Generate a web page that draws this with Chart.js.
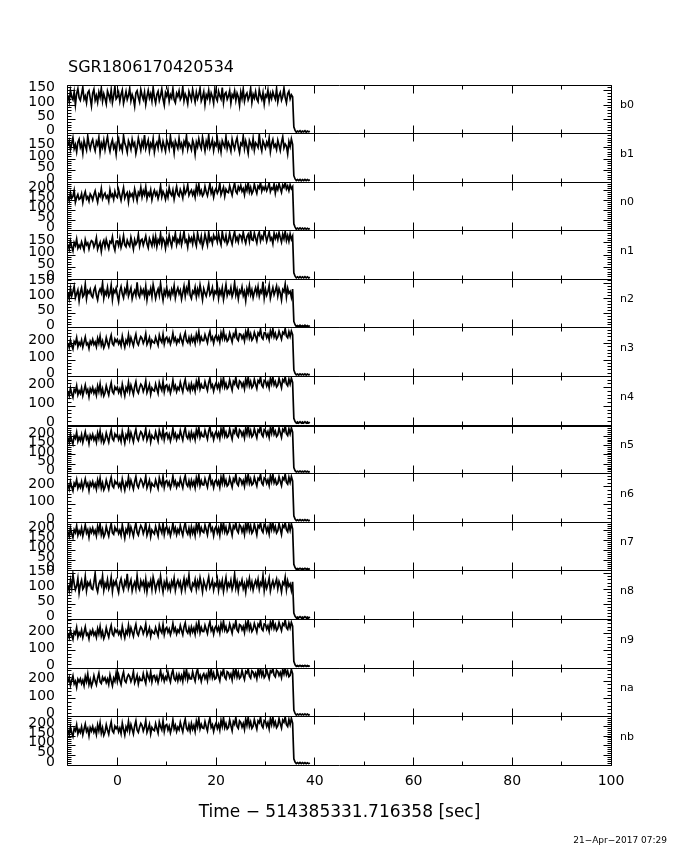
<!DOCTYPE html>
<html><head><meta charset="utf-8">
<script src="https://cdn.jsdelivr.net/npm/chart.js@4"></script>
<style>html,body{margin:0;padding:0;background:#fff}</style>
</head><body>
<canvas id="c" width="680" height="850"></canvas>
<script>
const TITLE = 'SGR1806170420534';
const X_TITLE = 'Time − 514385331.716358 [sec]';
const DATE_STAMP = '21−Apr−2017 07:29';
const X_TICKS = [0, 20, 40, 60, 80, 100];
const X_MINOR = [10, 30, 50, 70, 90];
const BIN_START = -10, BIN_WIDTH = 0.25;
const TAIL_TIMES = [35.75,36,36.25,36.5,36.75,37,37.25,37.5,37.75,38,38.25,38.5,38.75,39];
const DETECTORS = ['b0','b1','n0','n1','n2','n3','n4','n5','n6','n7','n8','n9','na','nb'];
const Y_MAX = [170,210,240,200,165,295,260,260,275,240,160,285,275,250];
const Y_TICKS = [[0,50,100,150],[0,50,100,150],[0,50,100,150,200],[0,50,100,150],[0,50,100,150],[0,100,200],[0,100,200],[0,50,100,150,200],[0,100,200],[0,50,100,150,200],[0,50,100,150],[0,100,200],[0,100,200],[0,50,100,150,200]];

const B0 = [134,112,151,128,119,146,101,140,157,125,116,138,162,120,131,108,143,150,124,97,
141,155,117,133,110,145,127,159,114,139,123,104,149,135,118,153,109,132,164,121,
128,144,113,137,152,106,126,147,119,133,158,115,136,122,96,142,150,127,111,154,
134,120,145,103,130,151,124,139,114,160,126,107,137,148,116,132,156,121,100,143,
131,152,113,136,125,157,118,108,141,130,149,119,128,163,115,138,126,105,147,133,
118,154,131,110,144,122,137,159,114,127,146,102,135,124,151,117,142,129,106,156,
125,115,148,132,121,161,109,138,144,120,131,150,107,136,127,149,116,141,128,99,
145,123,155,113,134,142,118,130,158,109,137,124,147,121,112,153,132,119,143,104,
135,128,152,114,140,123,146,131,120,157,111,133,144,117,130,159,126,108,139,148,122,136,129];
const B1 = [157,178,141,167,192,145,162,131,173,186,150,166,126,180,158,139,199,164,143,170,
184,155,136,175,161,193,128,168,150,181,140,172,197,156,133,165,183,147,162,122,
174,189,145,160,137,201,168,153,129,179,164,142,185,158,170,124,151,190,165,138,
176,156,204,144,163,182,135,167,152,188,130,161,173,148,195,164,141,176,155,134,
183,166,144,198,157,169,127,178,162,146,190,152,167,136,175,160,200,143,168,157,
140,181,163,121,172,153,187,160,145,194,165,135,176,155,203,147,162,183,137,169,
158,188,142,166,131,179,164,151,197,146,171,156,134,186,161,143,174,192,153,128,
168,160,199,145,177,154,125,180,165,149,189,139,170,162,150,206,157,135,178,164,
147,173,158,191,132,166,184,152,162,141,181,160,137,172,196,148,165,156,123,175,154,187,163];
const N0 = [172,149,187,160,170,199,141,164,179,155,160,183,140,174,193,157,168,146,182,171,
152,178,197,166,141,181,170,208,158,176,186,162,173,147,202,169,180,155,194,171,
164,203,176,150,183,212,161,179,189,143,188,171,182,156,206,178,149,190,177,214,
167,197,178,216,160,187,174,202,153,183,200,175,190,159,183,223,168,194,179,155,
193,167,213,184,174,201,156,188,218,180,171,204,187,162,214,183,196,226,175,190,
201,177,195,166,219,189,230,183,199,172,183,219,192,173,203,233,186,206,166,197,
209,186,200,234,178,196,215,171,205,192,188,222,198,176,212,236,194,184,217,202,
224,195,208,178,221,200,238,192,214,183,196,230,205,185,220,210,239,195,216,203,
222,198,214,237,193,211,204,231,186,219,203,233,210,190,226,214,238,206,221,198,227,208,218];
const N1 = [144,124,157,134,117,151,139,166,128,141,130,154,137,120,163,142,150,125,147,159,
155,133,146,171,124,139,152,115,148,160,134,164,143,126,156,150,175,137,119,157,
158,139,168,131,150,179,142,134,161,146,136,173,150,124,163,144,154,185,137,160,
165,141,159,178,146,130,168,154,138,173,145,176,135,163,150,188,141,169,158,128,
166,146,181,155,136,171,160,190,142,163,151,182,143,167,197,154,162,133,175,156,
170,146,183,157,138,190,164,151,177,134,153,186,163,141,194,159,170,148,181,166,
175,154,188,161,143,196,166,156,181,146,158,190,164,145,177,197,159,173,154,184,
179,159,194,166,149,176,186,157,198,163,160,191,169,150,182,195,158,177,165,199,
182,156,176,196,162,171,147,190,168,184,163,193,172,153,186,167,198,160,180,157,187,165,178];
const N2 = [119,99,134,109,124,141,103,116,129,92,121,136,106,113,148,100,126,118,131,110,
104,128,139,111,95,122,132,119,153,101,124,113,137,107,118,145,97,129,120,135,
111,90,125,140,116,102,131,119,150,108,122,136,99,117,127,110,155,114,105,133,
117,129,108,141,96,124,115,134,106,147,125,100,120,132,111,151,119,94,127,113,
138,109,123,104,131,117,143,102,124,136,116,128,98,119,142,108,135,121,158,111,
100,125,117,138,106,131,113,146,122,96,133,119,108,127,149,112,120,137,104,124,
117,143,101,128,114,136,97,122,147,110,125,116,137,107,121,154,112,130,99,127,
119,139,110,124,93,133,117,144,113,129,103,122,136,115,140,108,127,119,157,102,
131,111,124,145,101,120,137,113,126,142,109,133,119,95,130,123,149,105,135,118,124,104,132];
const N3 = [204,176,219,189,167,212,199,235,181,207,190,221,178,209,240,193,203,171,215,198,
225,194,210,181,232,202,244,189,215,174,194,236,205,181,223,251,200,190,228,211,
225,198,216,187,245,207,178,220,202,252,199,236,211,186,228,257,206,192,221,242,
231,202,222,260,195,213,237,187,221,209,203,239,214,190,251,222,208,256,197,230,
239,211,230,196,221,263,216,235,200,224,211,250,221,197,242,267,218,206,237,203,
243,214,236,201,256,224,272,210,240,217,217,254,229,205,249,275,223,240,202,237,
251,222,243,209,264,232,279,226,247,214,225,263,237,210,257,242,283,229,218,260,
256,231,250,216,271,240,286,233,259,221,233,268,244,218,264,251,288,237,227,266,
264,236,256,224,276,247,290,240,262,228,240,275,251,227,268,258,291,245,235,272,243,276,254];
const N4 = [183,157,198,168,148,191,178,210,162,184,169,199,158,186,214,175,190,152,195,177,
201,171,189,160,209,180,220,167,194,156,173,210,184,161,199,226,179,169,204,190,
203,175,194,166,219,187,157,200,183,228,178,213,189,164,206,232,185,172,200,219,
209,180,200,236,174,193,216,165,199,187,182,220,194,170,227,203,186,234,178,210,
216,187,207,172,198,240,192,211,179,202,190,229,201,178,219,244,197,186,215,183,
221,192,212,181,233,205,248,193,217,199,197,232,206,185,227,251,203,216,182,211,
226,198,219,189,240,210,254,202,223,195,204,242,213,187,233,220,256,208,198,237,
230,206,225,194,247,216,257,210,233,200,211,245,219,196,238,228,258,214,203,240,
236,210,230,200,250,221,258,216,233,204,214,250,225,200,243,232,259,220,210,246,220,251,228];
const N5 = [194,168,209,179,159,202,189,221,173,195,178,209,168,196,224,185,200,162,205,187,
210,180,198,169,218,189,229,176,203,165,181,218,192,169,207,234,187,177,212,198,
210,182,201,173,226,194,164,207,190,235,184,219,195,170,212,238,191,178,206,225,
214,185,205,241,179,198,221,170,204,192,186,224,198,174,231,207,190,238,182,214,
219,190,210,175,201,243,195,214,182,205,192,231,203,180,221,246,199,188,217,185,
222,193,213,182,234,206,249,194,218,200,197,232,207,185,228,251,203,216,182,211,
225,197,218,188,239,209,253,201,222,194,202,240,211,185,231,218,254,206,196,235,
227,203,222,191,244,213,256,207,230,197,207,241,215,192,234,224,257,210,199,236,
231,205,225,195,245,216,257,211,228,199,208,244,219,194,237,226,258,214,204,240,214,245,222];
const N6 = [214,187,229,199,178,222,209,242,193,215,198,230,188,216,245,205,220,180,225,207,
230,199,218,187,239,208,250,194,222,183,200,239,211,187,228,255,206,196,233,218,
228,201,219,190,245,212,182,225,208,256,202,237,213,188,230,258,209,196,224,244,
231,203,222,260,195,215,238,187,221,209,203,239,214,191,251,223,208,259,197,230,
236,209,228,194,218,261,213,233,198,222,208,247,219,195,240,264,216,204,235,200,
238,209,231,196,251,219,266,207,235,212,211,247,222,199,243,268,217,233,196,230,
240,213,233,198,254,221,268,215,238,205,214,251,225,199,246,232,270,219,208,249,
242,216,236,204,258,227,271,220,245,211,219,255,229,206,249,240,272,223,212,252,
246,220,240,209,262,230,272,224,243,214,221,258,232,208,252,241,273,226,216,255,226,259,234];
const N7 = [195,171,210,183,164,203,189,222,176,198,182,212,172,199,227,187,202,166,207,190,
212,184,200,173,220,193,232,179,204,168,183,220,194,172,209,234,187,180,215,198,
210,184,201,175,227,194,162,204,189,233,182,216,195,171,210,235,190,177,204,224,
212,184,204,236,176,196,219,169,202,191,183,219,196,172,227,205,188,234,179,211,
218,188,208,174,198,236,192,212,179,204,187,224,197,176,215,237,195,182,211,178,
217,186,209,175,229,200,238,185,213,194,189,226,203,178,220,238,198,212,174,208,
219,188,211,176,231,199,237,193,215,183,195,232,205,176,222,210,238,200,189,228,
220,193,214,180,235,203,237,197,223,186,197,231,207,178,224,214,238,201,190,229,
222,193,215,183,236,205,238,199,219,187,198,234,208,180,225,215,238,203,193,230,201,233,207];
const N8 = [113,94,128,103,148,118,98,110,135,88,115,129,100,107,141,95,121,112,125,102,
99,122,152,105,91,117,127,113,143,96,119,107,131,100,112,138,93,124,114,128,
105,89,120,134,111,97,125,113,150,102,117,130,94,112,123,101,144,107,98,127,
112,124,100,132,92,119,110,128,99,139,120,95,115,127,104,142,113,90,122,107,
131,101,116,97,125,111,136,96,118,129,110,123,93,113,134,100,128,115,146,104,
95,119,111,131,99,125,107,137,116,91,127,113,100,121,140,104,114,129,97,118,
111,133,96,122,107,128,92,116,138,101,119,109,129,99,114,149,104,124,94,121,
113,130,102,117,90,126,111,135,105,123,97,116,128,110,132,100,121,112,145,95,
124,103,117,136,94,114,127,106,119,133,101,125,113,91,122,115,139,98,127,109,117,96,124];
const N9 = [205,178,220,190,168,213,200,237,182,208,191,222,179,210,241,194,204,172,216,199,
224,193,209,180,231,201,243,188,214,173,194,236,205,181,223,250,200,190,228,211,
224,197,215,186,244,206,177,219,201,251,199,236,211,186,228,256,206,192,221,242,
230,201,221,258,194,212,236,186,220,208,202,238,213,189,250,221,207,255,196,229,
238,210,229,195,220,262,215,234,199,223,210,249,220,196,241,265,217,205,236,202,
241,212,234,199,254,222,270,208,238,215,214,251,226,202,246,272,220,237,199,234,
247,218,239,205,260,228,275,222,243,210,220,258,232,205,252,237,278,224,213,255,
249,224,243,209,264,233,279,226,252,214,226,261,237,211,257,244,280,230,220,259,
256,228,248,216,268,239,281,232,254,220,232,267,243,219,260,250,282,237,227,264,236,268,246];
const NA = [193,220,177,206,231,186,201,166,212,197,214,187,206,176,227,199,241,182,210,172,
194,232,201,180,219,246,197,188,223,206,220,193,213,183,236,203,175,218,200,247,
199,236,206,182,227,253,203,193,222,238,226,199,219,256,191,210,234,186,220,205,
204,243,211,188,249,226,208,254,197,230,233,205,227,193,222,262,213,234,200,225,
210,251,218,196,241,264,216,205,236,203,238,210,232,199,254,221,268,209,237,214,
214,254,224,201,247,269,219,234,199,231,243,216,236,204,258,226,270,220,246,212,
218,258,227,203,250,237,271,223,212,254,248,222,241,208,262,230,272,224,251,216,
225,262,233,210,256,246,272,229,218,259,252,228,246,215,266,236,273,232,256,220,
231,266,240,216,259,250,273,235,225,263,256,233,250,221,268,241,274,237,258,226,234,267,243];
const NB = [182,157,196,167,148,189,177,208,161,183,168,197,157,185,212,174,189,151,193,176,
199,170,187,158,207,178,218,165,192,154,171,208,181,159,196,223,176,167,201,188,
200,172,191,163,216,184,155,197,180,225,175,209,185,161,202,228,181,169,196,215,
204,176,195,230,169,188,211,161,194,183,178,214,189,166,222,198,182,229,173,205,
210,181,201,167,192,233,186,205,173,196,183,221,194,172,212,237,190,179,208,176,
214,185,205,174,226,198,241,186,210,192,189,224,198,177,219,243,195,208,174,203,
217,189,210,180,231,201,245,193,214,186,195,233,204,178,224,211,246,199,189,228,
220,196,215,184,237,206,247,200,223,190,201,235,209,186,228,218,248,204,193,230,
226,200,219,188,240,210,248,205,223,193,203,240,214,191,232,221,249,209,199,236,209,241,217];

const TAILS = [
[24,11,5,9,6,10,5,9,6,10,5,9,6,8],
[28,14,7,11,7,12,6,11,7,12,7,11,7,10],
[34,18,8,13,8,14,8,13,8,13,8,12,8,11],
[27,13,6,10,6,11,6,10,6,11,6,10,6,9],
[22,11,5,8,5,9,5,8,5,9,5,8,5,8],
[40,20,10,15,9,16,10,15,10,16,9,15,10,13],
[36,19,11,17,11,18,11,17,11,18,11,17,11,15],
[33,16,9,13,9,14,9,13,9,14,9,13,9,12],
[37,18,9,14,9,15,9,14,9,15,9,14,9,12],
[32,16,8,12,8,13,8,12,8,13,8,12,8,11],
[21,10,5,8,5,9,5,8,5,9,5,8,5,8],
[39,19,10,15,10,16,10,15,10,16,10,15,10,13],
[37,18,9,14,9,15,9,14,9,15,9,14,9,12],
[33,16,8,13,8,14,8,13,8,13,8,12,8,11]];
const MAIN = [B0,B1,N0,N1,N2,N3,N4,N5,N6,N7,N8,N9,NA,NB];

const FONT = 'DejaVu Sans';
const datasets = DETECTORS.map((d, i) => ({
  label: d,
  yAxisID: 'y' + i,
  xAxisID: 'x',
  data: MAIN[i].map((v, k) => ({x: BIN_START + k * BIN_WIDTH, y: v}))
        .concat(TAILS[i].map((v, k) => ({x: TAIL_TIMES[k], y: v}))),
  borderColor: '#000', borderWidth: 1.7, borderJoinStyle: 'miter', pointRadius: 0, tension: 0, fill: false
}));

const scales = {
  x: {
    type: 'linear', position: 'bottom', min: -10, max: 100,
    afterBuildTicks: s => { s.ticks = X_TICKS.map(v => ({value: v})); },
    grid: {display: false, drawTicks: false}, border: {display: false},
    ticks: {font: {family: FONT, size: 14}, color: '#000', padding: 8, autoSkip: false, maxRotation: 0},
    title: {display: true, text: X_TITLE, color: '#000', font: {family: FONT, size: 17}, padding: {top: 0, bottom: 2}},
    afterFit: s => { s.height = 60; }
  },
  names: {
    type: 'linear', axis: 'y', position: 'right', min: 0, max: DETECTORS.length, reverse: true,
    afterBuildTicks: s => { s.ticks = DETECTORS.map((_, k) => ({value: k + 0.5})); },
    grid: {display: false, drawTicks: false}, border: {display: false},
    ticks: {callback: (v, idx) => DETECTORS[idx], font: {family: FONT, size: 11}, color: '#000', padding: 9, labelOffset: -4, autoSkip: false},
    afterFit: s => { s.width = 56; }
  }
};
DETECTORS.forEach((d, i) => {
  scales['y' + i] = {
    type: 'linear', axis: 'y', position: 'left', stack: 'panels', stackWeight: 1, weight: DETECTORS.length - i,
    min: 0, max: Y_MAX[i],
    afterBuildTicks: s => { s.ticks = Y_TICKS[i].map(v => ({value: v})); },
    grid: {display: false, drawTicks: false}, border: {display: false},
    ticks: {font: {family: FONT, size: 14}, color: '#000', padding: 13, labelOffset: -3, autoSkip: false},
    afterFit: s => { s.width = 68; }
  };
});

const framePlugin = {
  id: 'frames',
  afterDatasetsDraw(chart) {
    const ctx = chart.ctx, xs = chart.scales.x;
    const L = Math.floor(xs.left) + 0.5, R = Math.floor(xs.right) + 0.5;
    ctx.save();
    ctx.strokeStyle = '#000';
    ctx.lineWidth = 1;
    DETECTORS.forEach((d, i) => {
      const ys = chart.scales['y' + i];
      const T = Math.floor(ys.top) + 0.5, B = Math.floor(ys.bottom) + 0.5;
      ctx.beginPath();
      ctx.rect(L, T, R - L, B - T);
      const xt = (v, len) => {
        const px = Math.floor(xs.getPixelForValue(v)) + 0.5;
        ctx.moveTo(px, B); ctx.lineTo(px, B - len);
        ctx.moveTo(px, T); ctx.lineTo(px, T + len);
      };
      X_TICKS.forEach(v => xt(v, 8));
      X_MINOR.forEach(v => xt(v, 4));
      const ticks = Y_TICKS[i];
      const step = (ticks[1] - ticks[0]) / 5;
      for (let v = 0; v <= Y_MAX[i]; v += step) {
        const py = Math.floor(ys.getPixelForValue(v)) + 0.5;
        const len = ticks.includes(v) ? 8 : 4;
        ctx.moveTo(L, py); ctx.lineTo(L + len, py);
        ctx.moveTo(R, py); ctx.lineTo(R - len, py);
      }
      ctx.stroke();
      if (d === 'n4') {
        ctx.beginPath();
        ctx.lineWidth = 2;
        ctx.moveTo(L, B + 0.5); ctx.lineTo(R, B + 0.5);
        ctx.stroke();
        ctx.lineWidth = 1;
      }
    });
    ctx.restore();
  }
};

new Chart(document.getElementById('c'), {
  type: 'line',
  data: {datasets},
  options: {
    responsive: false, animation: false, devicePixelRatio: 1, parsing: false, normalized: true,
    layout: {padding: {top: 0, left: 0, right: 13, bottom: 0}},
    scales,
    plugins: {
      legend: {display: false},
      tooltip: {enabled: false},
      title: {display: true, text: TITLE, align: 'start', fullSize: false, color: '#000',
              font: {family: FONT, size: 16, weight: 'normal'}, padding: {top: 58.4, bottom: 7.4}},
      subtitle: {display: true, text: DATE_STAMP, position: 'bottom', align: 'end', color: '#000',
                 font: {family: FONT, size: 9, weight: 'normal'}, padding: {top: 10, bottom: 4}}
    }
  },
  plugins: [framePlugin]
});
</script>
</body></html>
